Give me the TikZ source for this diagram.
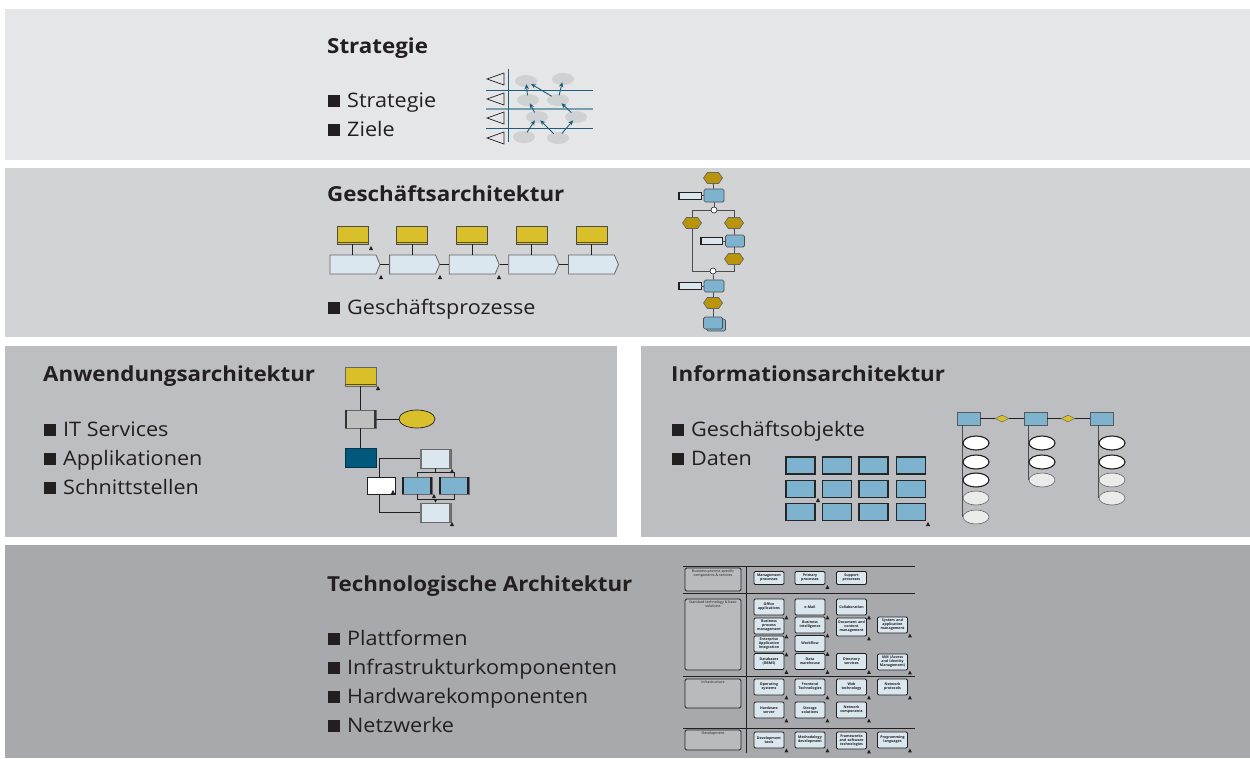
\documentclass[tikz,border=0pt]{standalone}
\usepackage{fontspec}
\setmainfont{Open Sans}[FakeStretch=1.08]
\newfontfamily\boxfont{Open Sans}
\usetikzlibrary{shapes.geometric,shapes.symbols,shapes.misc,arrows.meta}
\definecolor{pA}{HTML}{E5E6E8}
\definecolor{pB}{HTML}{D2D3D5}
\definecolor{pC}{HTML}{BDBEC1}
\definecolor{pD}{HTML}{A8A9AC}
\definecolor{gold}{HTML}{D9BF2A}
\definecolor{dgold}{HTML}{B9950E}
\definecolor{lblue}{HTML}{DAE7EF}
\definecolor{mblue}{HTML}{7DB3CE}
\definecolor{tealc}{HTML}{00597D}
\definecolor{egrey}{HTML}{D0D1D3}
\definecolor{atel}{HTML}{1E5E7C}
\definecolor{ink}{HTML}{231F20}
\definecolor{lgbox}{HTML}{B9BABD}
\newcommand\bsq{\rule{12pt}{12pt}\hspace{7pt}}
\newcommand\mk[1]{\fill[ink] (#1) ++(0,-2.2) -- ++(2.1,4.2) -- ++(-4.2,0) -- cycle;}
\newcommand\mkat[1]{\fill[ink] ([xshift=2pt,yshift=-2pt]#1.south east) ++(0,-2) -- ++(2,4) -- ++(-4,0) -- cycle;}
\newcommand\sidebars[2]{\fill[#2] (#1.north west) rectangle ([xshift=2.2pt]#1.south west);
  \fill[#2] ([xshift=-2.2pt]#1.north east) rectangle (#1.south east);}
\begin{document}
\begin{tikzpicture}[x=1pt,y=-1pt,
  title/.style={anchor=base west, font=\bfseries\fontsize{20.7}{25}\selectfont, text=ink, inner sep=0},
  item/.style={anchor=base west, font=\fontsize{20}{24}\selectfont, text=ink, inner sep=0},
  ell/.style={ellipse, fill=egrey, minimum width=22pt, minimum height=12pt, inner sep=0},
  sarr/.style={atel, line width=0.9pt, -{Stealth[length=5pt,width=4.5pt]}, shorten <=-1.5pt, shorten >=-3pt},
  ybox/.style={rectangle, fill=gold, draw=ink!80, line width=0.6pt, minimum width=31pt, minimum height=18pt, inner sep=0},
  chev/.style={signal, signal to=east, signal pointer angle=134, fill=lblue, draw=black!60, line width=0.8pt, minimum width=50pt, minimum height=19pt, inner sep=0},
  ev/.style={signal, signal to=east and west, signal pointer angle=110, fill=dgold, draw=black!60, line width=0.7pt, minimum width=19pt, minimum height=11pt, inner sep=0},
  fn/.style={rectangle, rounded corners=1.5pt, fill=mblue, draw=black!70, line width=0.7pt, minimum width=20pt, minimum height=13pt, inner sep=0},
  io/.style={rectangle, fill=lblue, draw=ink, line width=0.6pt, minimum width=23pt, minimum height=7pt, inner sep=0},
  xc/.style={circle, fill=white, draw=ink, line width=0.6pt, minimum size=6pt, inner sep=0},
  ln/.style={draw=black!70, line width=0.8pt},
  abox/.style={rectangle, draw=black!60, line width=0.6pt, minimum width=31pt, minimum height=19pt, inner sep=0},
  gbox/.style={rectangle, fill=mblue, draw=black!85, line width=1.2pt, minimum width=29pt, minimum height=17pt, inner sep=0},
  ent/.style={rectangle, fill=mblue, draw=black!65, line width=0.8pt, minimum width=23pt, minimum height=13pt, inner sep=0},
  rel/.style={diamond, fill=gold, draw=black!60, line width=0.5pt, minimum width=14pt, minimum height=7pt, inner sep=0},
  attd/.style={ellipse, fill=white, draw=ink, line width=1.1pt, minimum width=26pt, minimum height=14pt, inner sep=0},
  attl/.style={ellipse, fill=black!8, draw=black!60, line width=0.6pt, minimum width=26pt, minimum height=14pt, inner sep=0},
  tb/.style={rectangle, draw=ink, line width=0.9pt, rounded corners=1.2pt, fill=lblue, minimum width=30pt, minimum height=16pt, text width=29pt, align=center, inner sep=0.3pt, font=\boxfont\bfseries\fontsize{3.6}{4}\selectfont, text=ink},
  lb/.style={rectangle, draw=ink, line width=0.9pt, rounded corners=1.5pt, fill=lgbox, minimum width=56pt, inner sep=0},
  lbt/.style={font=\boxfont\fontsize{3.6}{4.2}\selectfont, text=ink, align=center, inner sep=0}
]
\useasboundingbox (0,0) rectangle (1250,758);
\fill[white] (0,0) rectangle (1250,758);
% panels
\fill[pA] (5,9) rectangle (1250,160);
\fill[pB] (5,168) rectangle (1250,337);
\fill[pC] (5,346) rectangle (617,537);
\fill[pC] (641,346) rectangle (1250,537);
\fill[pD] (5,545) rectangle (1250,758);

% ---------- Strategie ----------
\node[title] (tS) at (327,53) {Strategie};
\node[item] (iS1) at (328,107) {\bsq Strategie};
\node[item] (iS2) at (328,136) {\bsq Ziele};

\draw[atel, line width=1pt] (486,90) -- (593,90);
\draw[atel!60, line width=1.6pt] (486,109) -- (593,109);
\draw[atel, line width=1pt] (486,128) -- (593,128);
\draw[atel, line width=1pt] (508,69) -- (508,142);
\foreach \yy in {79,99,118,138}{
  \draw[ink, line width=0.7pt, line join=miter] (504,\yy-6) -- (487,\yy) -- (504,\yy+6) -- cycle;}
\node[ell] (e1) at (526,81) {};
\node[ell] (e2) at (563,79) {};
\node[ell] (e3) at (528,100) {};
\node[ell] (e4) at (558,100) {};
\node[ell] (e5) at (537,117) {};
\node[ell] (e6) at (576,117) {};
\node[ell] (e7) at (524,137) {};
\node[ell] (e8) at (558,138) {};
\draw[sarr] (e3) -- (e1);
\draw[sarr] (e4) -- (e1);
\draw[sarr] (e4) -- (e2);
\draw[sarr] (e5) -- (e3);
\draw[sarr] (e6) -- (e4);
\draw[sarr] (e7) -- (e5);
\draw[sarr] (e8) -- (e5);
\draw[sarr] (e8) -- (e6);

% ---------- Geschaeftsarchitektur ----------
\node[title] (tG) at (327,201) {Geschäftsarchitektur};
\node[item] (iG1) at (328,314) {\bsq Geschäftsprozesse};

\foreach \i in {1,...,5} {
  \node[ybox] (y\i) at ({352.5+59.7*(\i-1)},235) {};
  \draw[ink!80, line width=0.6pt] ([yshift=2pt]y\i.south west) -- ([yshift=2pt]y\i.south east);
  \node[chev] (c\i) at ({353+59.6*(\i-1)},264.5) {};
  \draw[ink, line width=0.7pt] (y\i.south) -- (y\i.south |- c\i.north);
}
\foreach \i/\j in {1/2,2/3,3/4,4/5}{
  \draw[ink, line width=0.7pt] (c\i.east) -- (c\j.west);}
\mk{371,248}
\mk{381,277}
\mk{440,277}
\mk{499,277}

% EPC
\node[ev] (ev1) at (713,178) {};
\node[fn] (f1) at (714,195.5) {};
\node[io] (i1) at (689.5,195.5) {};
\node[xc] (x1) at (714,210) {};
\node[ev] (evL) at (692,223) {};
\node[ev] (evR) at (734,223) {};
\node[fn, minimum width=19pt, minimum height=12pt] (f2) at (735,241) {};
\node[io, minimum width=22pt] (i2) at (711,241) {};
\node[ev] (evR2) at (734,259) {};
\node[xc] (x2) at (713,271) {};
\node[fn, minimum height=12pt] (f3) at (714,286) {};
\node[io] (i3) at (689.5,286) {};
\node[ev] (ev4) at (713,303) {};
\node[fn, minimum width=19pt, minimum height=12pt] (f4b) at (716,325) {};
\node[fn, minimum width=19pt, minimum height=12pt] (f4) at (713,323) {};
\draw[ln] (ev1) -- (f1);
\draw[ln] (i1) -- (f1);
\draw[ln] (f1) -- (x1);
\draw[ln] (x1) -| (evL);
\draw[ln] (x1) -| (evR);
\draw[ln] (evR) -- (f2);
\draw[ln] (i2) -- (f2);
\draw[ln] (f2.south -| evR2) -- (evR2);
\draw[ln] (evL) |- (x2);
\draw[ln] (evR2) |- (x2);
\draw[ln] (x2) -- (f3);
\draw[ln] (i3) -- (f3);
\draw[ln] (f3) -- (ev4);
\draw[ln] (ev4) -- (f4);
\foreach \n in {i1,i2,i3}{
  \fill[ink] (\n.north west) rectangle ([xshift=1.8pt]\n.south west);}

% ---------- Anwendungsarchitektur ----------
\node[title] (tA) at (43,381) {Anwendungsarchitektur};
\node[item] (iA1) at (44,436) {\bsq IT Services};
\node[item] (iA2) at (44,465) {\bsq Applikationen};
\node[item] (iA3) at (44,494) {\bsq Schnittstellen};

\node[abox, fill=gold] (a1) at (360.5,376.5) {};
\draw[ink!80, line width=0.6pt] ([yshift=2pt]a1.south west) -- ([yshift=2pt]a1.south east);
\node[abox, fill=black!25, minimum height=18pt] (a2) at (360.5,419) {};
\sidebars{a2}{black!80}
\node[ellipse, fill=gold, draw=ink, line width=0.7pt, minimum width=36pt, minimum height=18pt, inner sep=0] (a3) at (417,419) {};
\node[abox, fill=tealc, draw=tealc!60!black] (a4) at (360.5,457.5) {};
\node[abox, fill=lblue] (a5) at (435.5,458.5) {};
\sidebars{a5}{black!55}
\node[abox, fill=mblue, minimum width=30pt, minimum height=17pt] (a7) at (417,485.5) {};
\sidebars{a7}{ink}
\node[abox, fill=mblue, minimum width=30pt, minimum height=17pt] (a8) at (454,485.5) {};
\sidebars{a8}{ink}
\node[abox, fill=lblue] (a9) at (435.5,512.5) {};
\sidebars{a9}{black!55}
\draw[ink, line width=0.7pt] (a1) -- (a2);
\draw[ink, line width=0.7pt] (a2) -- (a3);
\draw[ink, line width=0.7pt] (a2) -- (a4);
\draw[ink, line width=0.7pt] (a5.west) -- ++(-40,0) |- (a9.west);
\node[abox, fill=white, draw=ink, minimum width=28pt, minimum height=17pt] (a6) at (381,485.5) {};
\draw[ink, line width=0.7pt] (a5.south) -- ++(0,4) -| (a7.north);
\draw[ink, line width=0.7pt] (a5.south) -- ++(0,4) -| (a8.north);
\draw[ink, line width=0.7pt] (a7.south) -- ++(0,5) -| (a8.south);
\coordinate (aj) at (435.5,499);
\draw[ink, line width=0.7pt, -{Stealth[length=3pt,width=3pt]}] (aj) -- (a9.north);
\mk{378,388}
\mk{452,471}
\mk{434,496}
\mk{393,492}
\mk{452,524}

% ---------- Informationsarchitektur ----------
\node[title] (tI) at (671,381) {Informationsarchitektur};
\node[item] (iI1) at (672,436) {\bsq Geschäftsobjekte};
\node[item] (iI2) at (672,465) {\bsq Daten};

\foreach \r/\yy in {1/465.5,2/489,3/512}{
  \foreach \c/\xx in {1/800.5,2/837,3/873.5,4/911}{
    \node[gbox] (g\r\c) at (\xx,\yy) {};}}
\mk{818,500}
\mk{928,524}

\node[ent] (ent1) at (968.5,418.5) {};
\node[ent] (ent2) at (1035.5,418.5) {};
\node[ent] (ent3) at (1101.5,418.5) {};
\node[rel] (rel1) at (1002,418.5) {};
\node[rel] (rel2) at (1068,418.5) {};
\draw[ink, line width=0.7pt] (ent1) -- (rel1) -- (ent2) -- (rel2) -- (ent3);
% attributes
\draw[black!70, line width=0.9pt] ([xshift=-6.5pt]ent1.south) -- ++(0,92);
\draw[black!70, line width=0.9pt] ([xshift=-7.5pt]ent2.south) -- ++(0,55);
\draw[black!70, line width=0.9pt] ([xshift=-3.5pt]ent3.south) -- ++(0,73);
\node[attd] (b11) at (976,443) {};
\node[attd] (b12) at (976,462) {};
\node[attd] (b13) at (976,480) {};
\node[attl] (b14) at (976,498) {};
\node[attl] (b15) at (976,517) {};
\node[attd] (b21) at (1042,443) {};
\node[attd] (b22) at (1042,462) {};
\node[attl] (b23) at (1042,480) {};
\node[attd] (b31) at (1112,443) {};
\node[attd] (b32) at (1112,462) {};
\node[attl] (b33) at (1112,480) {};
\node[attl] (b34) at (1112,498) {};

% ---------- Technologische Architektur ----------
\node[title] (tT) at (327,591) {Technologische Architektur};
\node[item] (iT1) at (328,645) {\bsq Plattformen};
\node[item] (iT2) at (328,674) {\bsq Infrastrukturkomponenten};
\node[item] (iT3) at (328,703) {\bsq Hardwarekomponenten};
\node[item] (iT4) at (328,732) {\bsq Netzwerke};

\draw[ink, line width=0.9pt] (683,566) -- (915,566);
\draw[ink, line width=0.9pt] (683,593) -- (915,593);
\draw[ink, line width=0.9pt] (683,676) -- (915,676);
\draw[ink, line width=0.9pt] (683,728) -- (915,728);
\draw[ink, line width=0.9pt] (746,566) -- (746,753);

\node[lb, minimum height=23pt, label={[lbt, anchor=north, yshift=-2pt]north:{Business process specific\\components \& services}}] (L1) at (713,579.5) {};
\node[lb, minimum height=71pt, label={[lbt, anchor=north, yshift=-2pt]north:{Standard technology \& basic\\solutions}}] (L2) at (713,634.5) {};
\node[lb, minimum height=29pt, label={[lbt, anchor=north, yshift=-2pt]north:{Infrastructure}}] (L3) at (713,693.5) {};
\node[lb, minimum height=20pt, label={[lbt, anchor=north, yshift=-2pt]north:{Development}}] (L4) at (713,740) {};

\node[tb, minimum height=13pt] (t11) at (769,578) {Management\\processes};
\node[tb, minimum height=13pt] (t12) at (810,578) {Primary\\processes};
\node[tb, minimum height=13pt] (t13) at (851.5,578) {Support\\processes};
\node[tb] (t21) at (769,607) {Office\\applications};
\node[tb] (t22) at (810,607) {e-Mail};
\node[tb] (t23) at (851.5,607) {Collaboration};
\node[tb] (t31) at (769,626) {Business\\process\\management};
\node[tb] (t32) at (810,625) {Business\\intelligence};
\node[tb, minimum height=18pt] (t33) at (851.5,627) {Document and\\content\\management};
\node[tb] (t34) at (892.5,625) {System and\\application\\management};
\node[tb] (t41) at (769,644) {Enterprise\\Application\\Integration};
\node[tb] (t42) at (810,643.5) {Workflow};
\node[tb] (t51) at (769,661.5) {Databases\\(DBMS)};
\node[tb] (t52) at (810,661.5) {Data\\warehouse};
\node[tb] (t53) at (851.5,661.5) {Directory\\services};
\node[tb] (t54) at (892.5,662) {IAM (Access\\and Identity\\Management)};
\node[tb] (t61) at (769,687) {Operating\\systems};
\node[tb] (t62) at (810,687) {Frontend\\Technologies};
\node[tb] (t63) at (851.5,687) {Web\\technology};
\node[tb] (t64) at (892.5,687) {Network\\protocols};
\node[tb] (t71) at (769,710) {Hardware\\server};
\node[tb] (t72) at (810,710) {Storage\\solutions};
\node[tb] (t73) at (851.5,710) {Network\\components};
\node[tb] (t81) at (769,740) {Development\\tools};
\node[tb] (t82) at (810,740) {Methodology\\development};
\node[tb, minimum height=17pt] (t83) at (851.5,740.5) {Frameworks\\and software\\technologies};
\node[tb] (t84) at (892.5,740) {Programming\\languages};
\foreach \n in {t12,t21,t22,t23,t31,t32,t33,t34,t41,t42,t51,t52,t53,t54,t61,t62,t63,t64,t71,t72,t73,t81,t82,t83,t84}{
  \mkat{\n}}
\end{tikzpicture}
\end{document}
